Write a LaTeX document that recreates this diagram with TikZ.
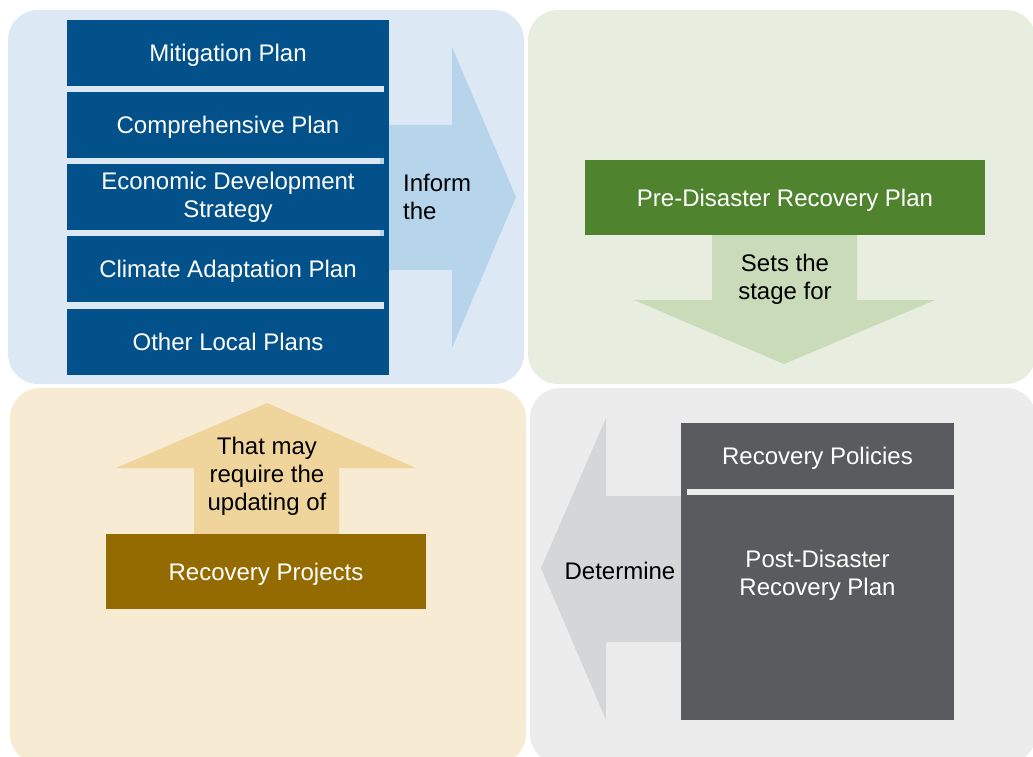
\documentclass[tikz,border=0pt]{standalone}
\usepackage{fontspec}
\setmainfont{Liberation Sans}
\usepackage{tikz}
\usetikzlibrary{positioning}
\definecolor{panel_blue}{HTML}{DCE9F5}
\definecolor{panel_green}{HTML}{E7EDDF}
\definecolor{panel_beige}{HTML}{F7ECD3}
\definecolor{panel_gray}{HTML}{EBECEB}
\definecolor{plan_blue}{HTML}{03518A}
\definecolor{plan_green}{HTML}{4F832E}
\definecolor{plan_brown}{HTML}{936B00}
\definecolor{plan_gray}{HTML}{5A5B5E}
\definecolor{arrow_blue}{HTML}{B6D5EA}
\definecolor{arrow_green}{HTML}{C9DBB8}
\definecolor{arrow_beige}{HTML}{EFD59B}
\definecolor{arrow_gray}{HTML}{D5D6D8}
\tikzset{my_panel/.style={rounded corners=30pt}}
\tikzset{my_text/.style={inner sep=0pt, align=center, font=\fontsize{24}{28}\selectfont}}
\tikzset{my_box/.style={my_text, rectangle, text=white}}
\tikzset{my_one_line/.style={text depth=0pt}}
\tikzset{my_plan/.style={my_box, fill=plan_blue, minimum width=322pt, minimum height=66pt}}

\begin{document}
\begin{tikzpicture}[x=1pt,y=-1pt]
    %\draw[help lines] (0,0) grid (1033,757);
    \useasboundingbox (0,0) rectangle (1033,757);
    \clip (0,0) rectangle (1033,757);
    \fill[panel_blue, my_panel] (8,10) rectangle (524,384);
    \fill[panel_green, my_panel] (528,10) rectangle (1036,384);
    \fill[panel_beige, my_panel] (10,388) rectangle (526,764);
    \fill[panel_gray, my_panel] (530,388) rectangle (1036,764);

    % block arrows
    \fill[arrow_blue] (380,125) -- (452,125) -- (452,47) -- (516,197)
        -- (452,348) -- (452,270) -- (380,270) -- cycle;
    \fill[arrow_green] (712,230) -- (857,230) -- (857,300) -- (935,300)
        -- (784,364) -- (634,300) -- (712,300) -- cycle;
    \fill[arrow_beige] (267,403) -- (416,468) -- (339,468) -- (339,540)
        -- (194,540) -- (194,468) -- (116,468) -- cycle;
    \fill[arrow_gray] (541,568) -- (606,418) -- (606,496) -- (690,496)
        -- (690,642) -- (606,642) -- (606,720) -- cycle;

    % local plans
    \fill[plan_blue] (384,20) rectangle (389,375);
    \node[my_plan, my_one_line] (mitigation) at (228,53) {Mitigation Plan};
    \node[my_plan, my_one_line] (comprehensive) at (228,125) {Comprehensive Plan};
    \node[my_plan] (economic) at (228,197) {Economic Development\\Strategy};
    \node[my_plan, my_one_line] (climate) at (228,269) {Climate Adaptation Plan};
    \node[my_plan, my_one_line] (other) at (228,342) {Other Local Plans};
    \node[my_text, anchor=west, align=left] (inform) at (403,197) {Inform\\the};

    % pre-disaster
    \node[my_box, my_one_line, fill=plan_green, minimum width=400pt, minimum height=75pt] (pre) at (785,197.5) {Pre-Disaster Recovery Plan};
    \node[my_text] (sets) at (785,279) {Sets the\\stage for};

    % post-disaster
    \fill[plan_gray] (681,488) rectangle (687,496);
    \node[my_box, my_one_line, fill=plan_gray, minimum width=273pt, minimum height=66pt] (policies) at (817.5,456) {Recovery Policies};
    \node[my_box, fill=plan_gray, minimum width=273pt, minimum height=225pt, anchor=north] (post) at (817.5,495) {};
    \node[my_box] (post_text) at (817.5,575) {Post-Disaster\\Recovery Plan};
    \node[my_text, my_one_line] (determine) at (620,571) {Determine};

    % projects
    \node[my_box, my_one_line, fill=plan_brown, minimum width=320pt, minimum height=75pt] (projects) at (266,571.5) {Recovery Projects};
    \node[my_text] (updating) at (267,476) {That may\\require the\\updating of};
\end{tikzpicture}
\end{document}
